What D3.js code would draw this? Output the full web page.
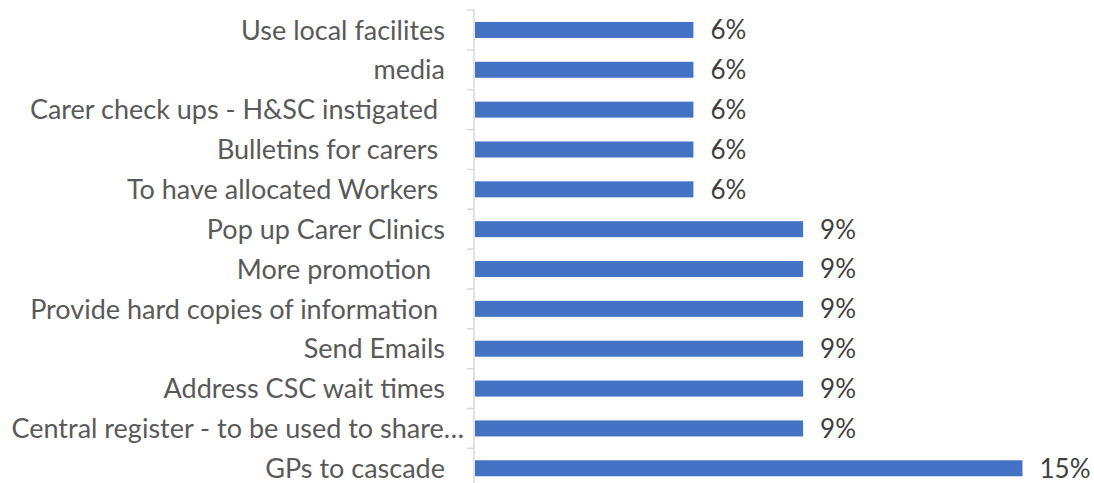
<!DOCTYPE html>
<html>
<head>
<meta charset="utf-8">
<script src="https://cdn.jsdelivr.net/npm/d3@7"></script>
<style>
  body { margin: 0; background: #fff; }
  text { font-family: Lato, "Open Sans", sans-serif; }
</style>
</head>
<body>
<script>
// categories, top to bottom (trailing spaces kept as in the source)
var categories = [
  "Use local facilites",
  "media",
  "Carer check ups - H&SC instigated ",
  "Bulletins for carers ",
  "To have allocated Workers ",
  "Pop up Carer Clinics",
  "More promotion  ",
  "Provide hard copies of information ",
  "Send Emails",
  "Address CSC wait times",
  "Central register - to be used to share\u2026",
  "GPs to cascade"
];
// percentages
var values = [6, 6, 6, 6, 6, 9, 9, 9, 9, 9, 9, 15];

var W = 1094, H = 483;
var axisX = 474;

var svg = d3.select("body").append("svg")
            .attr("width", W)
            .attr("height", H);

var x = d3.scaleLinear()
          .domain([0, 15])
          .range([axisX, 1022.5]);

var y = d3.scaleBand()
          .domain(categories)
          .range([10, 10 + 12 * 39.85])
          .paddingInner(0.6)
          .paddingOuter(0.3);

// axe vertical + petites graduations entre les categories
var axeY = d3.axisLeft(y)
             .tickSize(0)
             .tickFormat("");
var gY = svg.append("g")
            .attr("transform", "translate(" + axisX + ",0)")
            .call(axeY);
gY.select(".domain").remove();

var bounds = d3.range(categories.length + 1).map(i => 10 + i * 39.85);
svg.append("g").selectAll("line.tick")
   .data(bounds)
   .join("line")
   .attr("x1", axisX - 7).attr("x2", axisX)
   .attr("y1", d => d).attr("y2", d => d)
   .attr("stroke", "#d9d9d9")
   .attr("stroke-width", 1.5);
svg.append("line")
   .attr("x1", axisX).attr("x2", axisX)
   .attr("y1", 10).attr("y2", H)
   .attr("stroke", "#d9d9d9")
   .attr("stroke-width", 1.5);

// barres
svg.append("g").selectAll("rect")
   .data(values)
   .join("rect")
   .attr("x", x(0) + 1)
   .attr("y", (d, i) => y(categories[i]) + (y.bandwidth() - 16) / 2)
   .attr("width", d => x(d) - x(0) - 1)
   .attr("height", 16)
   .attr("fill", "#4472c4");

// etiquettes des categories
svg.append("g").selectAll("text")
   .data(categories)
   .join("text")
   .attr("x", d => d.endsWith("\u2026") ? 464 : 445)
   .attr("y", d => y(d) + y.bandwidth() / 2)
   .attr("dy", "0.36em")
   .attr("text-anchor", "end")
   .style("white-space", "pre")
   .attr("font-size", "27px")
   .attr("fill", "#595959")
   .text(d => d);

// valeurs
svg.append("g").selectAll("text")
   .data(values)
   .join("text")
   .attr("x", d => x(d) + 17)
   .attr("y", (d, i) => y(categories[i]) + y.bandwidth() / 2)
   .attr("dy", "0.36em")
   .attr("font-size", "26px")
   .attr("fill", "#404040")
   .text(d => d + "%");
</script>
</body>
</html>
